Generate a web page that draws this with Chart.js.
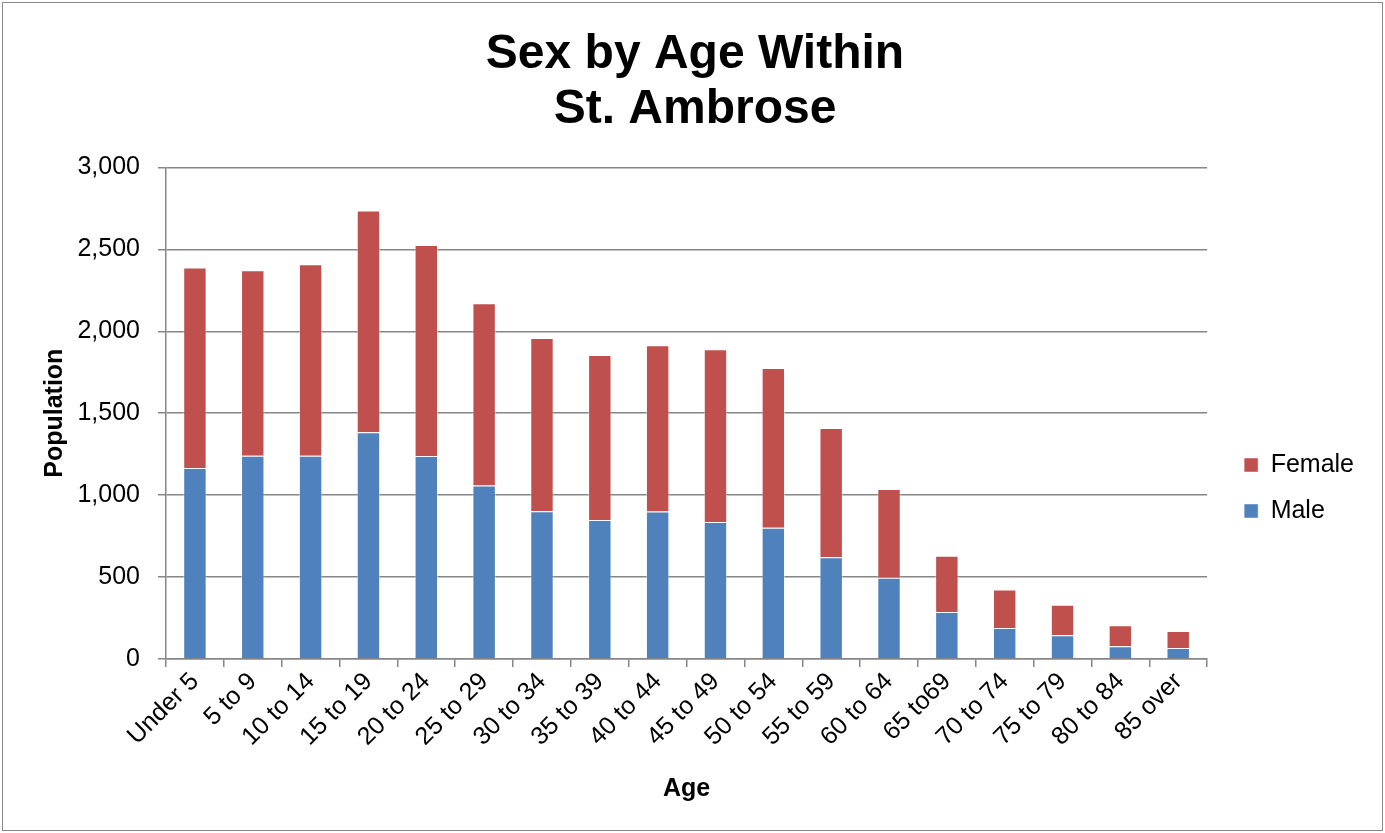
<!DOCTYPE html>
<html>
<head>
<meta charset="utf-8">
<script src="https://cdn.jsdelivr.net/npm/chart.js@4"></script>
<style>
  html, body { margin: 0; padding: 0; background: #fff; overflow: hidden; }
  canvas { display: block; position: absolute; left: 0; top: 0; }
  #frame { position: absolute; left: 2px; top: 2px; width: 1381px; height: 829px; border: 1px solid #8a8a8a; box-sizing: border-box; pointer-events: none; }
</style>
</head>
<body>
<canvas id="chart" width="1385" height="833"></canvas>
<div id="frame"></div>
<script>
// Age groups on the x axis
const ageGroups = ["Under 5", "5 to 9", "10 to 14", "15 to 19", "20 to 24", "25 to 29",
  "30 to 34", "35 to 39", "40 to 44", "45 to 49", "50 to 54", "55 to 59",
  "60 to 64", "65 to69", "70 to 74", "75 to 79", "80 to 84", "85 over"];

// Population values
const male = [1165, 1240, 1240, 1384, 1238, 1059, 902, 848, 900, 835, 801, 620, 496, 287, 189, 144, 77, 67];
const female = [1225, 1132, 1169, 1354, 1288, 1112, 1057, 1007, 1015, 1055, 975, 789, 541, 343, 235, 187, 128, 104];

const gridColor = "#868686";
const font = "'Liberation Sans', Arial, sans-serif";

const ctx = document.getElementById("chart").getContext("2d");
new Chart(ctx, {
  type: "bar",
  data: {
    labels: ageGroups,
    datasets: [
      { label: "Male", data: male, backgroundColor: "#4F81BD", borderColor: "rgba(255,255,255,0.45)", borderWidth: 1 },
      { label: "Female", data: female, backgroundColor: "#C0504D", borderColor: "rgba(255,255,255,0.45)", borderWidth: 1 }
    ]
  },
  options: {
    responsive: false,
    animation: false,
    layout: { padding: { left: 26, right: 21, top: 0, bottom: 25 } },
    datasets: { bar: { categoryPercentage: 1, barPercentage: 0.405 } },
    plugins: {
      title: {
        display: true,
        text: ["Sex by Age Within", "St. Ambrose"],
        color: "#000",
        font: { family: font, size: 48, weight: "bold", lineHeight: 1.13 },
        padding: { top: 28, bottom: 31 }
      },
      legend: {
        position: "right",
        reverse: true,
        title: { display: true, text: " ", font: { size: 25 }, padding: { top: 78, bottom: 60 } },
        labels: {
          color: "#000",
          font: { family: font, size: 25 },
          boxWidth: 14,
          boxHeight: 14,
          padding: 21
        }
      },
      tooltip: { enabled: false }
    },
    scales: {
      x: {
        stacked: true,
        grid: { offset: true, drawOnChartArea: false, color: gridColor, lineWidth: 1.5, tickLength: 8 },
        border: { color: gridColor, width: 1.5 },
        ticks: { color: "#000", font: { family: font, size: 25 }, minRotation: 45, maxRotation: 45, padding: 0 },
        title: { display: true, text: "Age", color: "#000", font: { family: font, size: 25, weight: "bold" }, padding: { top: 22 } }
      },
      y: {
        stacked: true,
        min: 0,
        max: 3000,
        grid: { color: gridColor, lineWidth: 1.5, tickLength: 8 },
        border: { color: gridColor, width: 1.5 },
        ticks: {
          stepSize: 500,
          color: "#000",
          font: { family: font, size: 25 },
          padding: 18,
          callback: v => v.toLocaleString("en-US")
        },
        title: { display: true, text: "Population", color: "#000", font: { family: font, size: 25, weight: "bold" }, padding: { top: 14, bottom: 4 } },
        afterFit: scale => { scale.width = 140; }
      },
      // empty spacer between the plot and the legend
      gap: {
        type: "linear",
        position: "right",
        grid: { display: false },
        border: { display: false },
        ticks: { display: false },
        afterFit: scale => { scale.width = 16; }
      }
    }
  }
});
</script>
</body>
</html>
